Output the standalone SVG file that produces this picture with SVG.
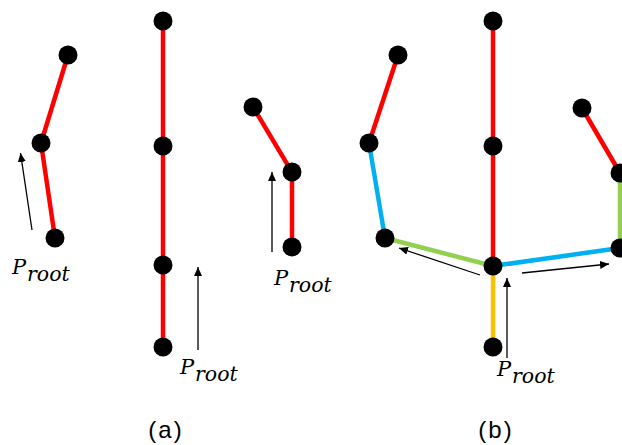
<svg xmlns="http://www.w3.org/2000/svg" width="622" height="445" viewBox="0 0 622 445">
<style>
.e{stroke-width:4.5;fill:none;stroke-linecap:butt}
.r{stroke:#ff0000}.b{stroke:#00b0f0}.g{stroke:#92d050}.y{stroke:#ffc000}
.a{stroke:#000;stroke-width:1.3;fill:none;marker-end:url(#ah)}
.n{fill:#000}
.p{font-family:"DejaVu Serif","Liberation Serif",serif;font-style:italic;font-size:21px;fill:#000}
.s{font-family:"DejaVu Serif","Liberation Serif",serif;font-style:italic;font-size:20.5px;fill:#000}
.c{font-family:"Liberation Sans","Open Sans",sans-serif;font-size:24px;fill:#000;text-anchor:middle;letter-spacing:2px}
</style>
<defs>
<marker id="ah" markerUnits="userSpaceOnUse" markerWidth="10" markerHeight="8" refX="9" refY="4" orient="auto">
<path d="M0,0 L9,4 L0,8 Z" fill="#000"/>
</marker>
</defs>
<g id="connectors">
<path class="e r" d="M68,55 L41,143 L55,238"/>
<path class="e r" d="M163,21 L163,347"/>
<path class="e r" d="M253,107 L292,172 L292,247"/>
<path class="e r" d="M398,55 L369,143"/>
<path class="e b" d="M369,143 L385,238"/>
<path class="e g" d="M385,238 L493,266"/>
<path class="e r" d="M493,21 L493,266"/>
<path class="e y" d="M493,266 L493,347"/>
<path class="e b" d="M493,266 L620,248"/>
<path class="e g" d="M620,248 L620,173"/>
<path class="e r" d="M620,173 L582,108"/>
<path class="a" d="M32,230 L20.5,153"/>
<path class="a" d="M198,350 L198,267"/>
<path class="a" d="M272,252 L272,172"/>
<path class="a" d="M480,275 L399,248"/>
<path class="a" d="M522,273 L609,264"/>
<path class="a" d="M507,358 L507,278"/>
</g>
<g id="a1"><circle class="n" cx="68" cy="55" r="9.5"/><circle class="n" cx="41" cy="143" r="9.5"/><circle class="n" cx="55" cy="238" r="9.5"/></g>
<g id="a2"><circle class="n" cx="163" cy="21" r="9.5"/><circle class="n" cx="163" cy="146" r="9.5"/><circle class="n" cx="163" cy="265" r="9.5"/><circle class="n" cx="163" cy="347" r="9.5"/></g>
<g id="a3"><circle class="n" cx="253" cy="107" r="9.5"/><circle class="n" cx="292" cy="172" r="9.5"/><circle class="n" cx="292" cy="247" r="9.5"/></g>
<g id="b1">
<circle class="n" cx="398" cy="55" r="9.5"/><circle class="n" cx="369" cy="143" r="9.5"/><circle class="n" cx="385" cy="238" r="9.5"/>
<circle class="n" cx="493" cy="21" r="9.5"/><circle class="n" cx="493" cy="146" r="9.5"/><circle class="n" cx="493" cy="266" r="9.5"/><circle class="n" cx="493" cy="347" r="9.5"/>
<circle class="n" cx="582" cy="108" r="9.5"/><circle class="n" cx="620" cy="173" r="9.5"/><circle class="n" cx="620" cy="248" r="9.5"/>
</g>
<g id="labels">
<text class="p" x="12" y="274">P</text><text class="s" x="27" y="281">root</text>
<text class="p" x="180" y="374">P</text><text class="s" x="195" y="381">root</text>
<text class="p" x="274" y="285">P</text><text class="s" x="289" y="292">root</text>
<text class="p" x="497" y="376">P</text><text class="s" x="512" y="383">root</text>
<text class="c" x="166" y="438">(a)</text>
<text class="c" x="496" y="438">(b)</text>
</g>
</svg>
